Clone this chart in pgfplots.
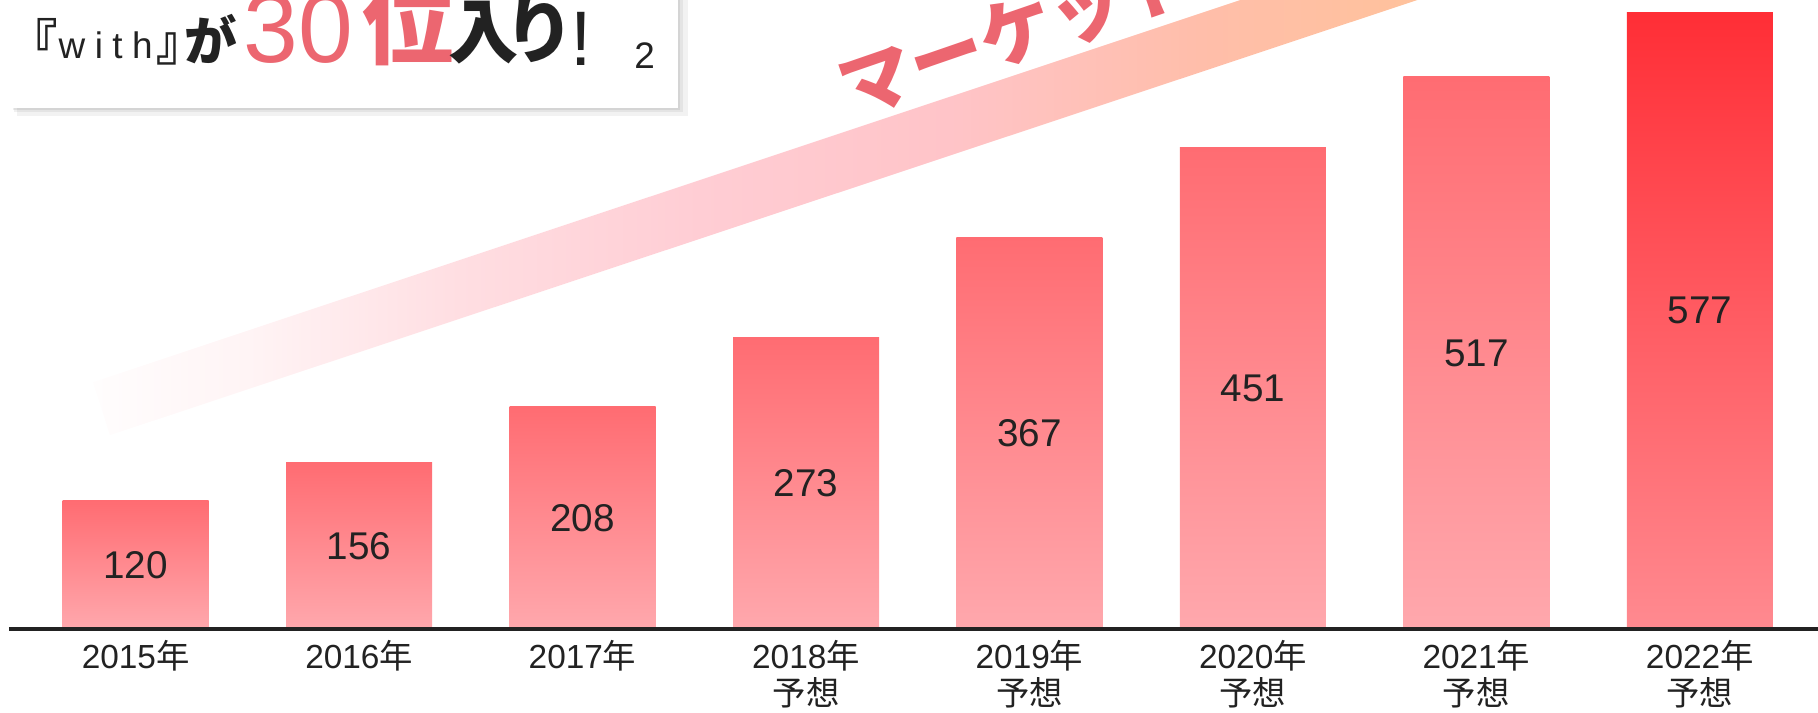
\documentclass[border=0pt]{standalone}
\usepackage{fontspec}
\setmainfont{Liberation Sans}
\newfontfamily\cjk{Noto Sans CJK JP}
\usepackage{pgfplots}
\pgfplotsset{compat=1.18}

\definecolor{barTop}{RGB}{255,108,114}
\definecolor{barBot}{RGB}{255,168,173}
\definecolor{lastTop}{RGB}{255,46,54}
\definecolor{lastBot}{RGB}{255,138,144}
\definecolor{accent}{RGB}{236,102,112}
\definecolor{ink}{RGB}{34,34,34}
\definecolor{bandA}{RGB}{255,253,253}
\definecolor{bandB}{RGB}{255,244,245}
\definecolor{bandC}{RGB}{255,222,226}
\definecolor{bandD}{RGB}{255,205,212}
\definecolor{bandE}{RGB}{255,196,200}
\definecolor{bandF}{RGB}{255,190,170}
\definecolor{bandG}{RGB}{255,195,152}
% path bbox maps onto 25bp..75bp
\pgfdeclarehorizontalshading{band}{100bp}{color(0bp)=(bandA); color(25bp)=(bandA);
  color(30.6bp)=(bandB); color(38.2bp)=(bandC); color(46.9bp)=(bandD);
  color(55.9bp)=(bandE); color(64.9bp)=(bandF); color(75bp)=(bandG); color(100bp)=(bandG)}

% market size by year (2015-2021, and 2022 forecast drawn stronger)
\pgfplotstableread{
x y
0 120
1 156
2 208
3 273
4 367
5 451
6 517
}\sizes
\pgfplotstableread{
x y
7 577
}\lastsize

\begin{document}
\begin{tikzpicture}
\useasboundingbox (0,0) rectangle (18.18cm,7.12cm);
\begin{scope}
\clip (0,0) rectangle (18.18cm,7.12cm);
\begin{axis}[
    at={(0,0)}, anchor=south west,
    scale only axis,
    width=18.18cm, height=7.12cm,
    xmin=-0.607, xmax=7.529,
    ymin=-77.7, ymax=589,
    axis x line=middle, axis y line=none,
    x axis line style={draw=none},
    xtick={0,...,7},
    xtick style={draw=none},
    ytick=\empty,
    xticklabels={
        {2015{\cjk 年}},
        {2016{\cjk 年}},
        {2017{\cjk 年}},
        {2018{\cjk 年}\\{\cjk 予想}},
        {2019{\cjk 年}\\{\cjk 予想}},
        {2020{\cjk 年}\\{\cjk 予想}},
        {2021{\cjk 年}\\{\cjk 予想}},
        {2022{\cjk 年}\\{\cjk 予想}}},
    xticklabel style={align=center, anchor=north, yshift=2.5pt,
        font=\fontsize{9.5}{10.6}\selectfont, text=ink},
    /pgf/number format/assume math mode=true,
    clip=false,
]
% one plot per bar so that every bar gets its own top-to-bottom gradient
\pgfplotsinvokeforeach{0,...,6}{
  \addplot[ybar, bar width=1.46cm, bar shift=0pt, draw=none, mark=none,
           top color=barTop, bottom color=barBot,
           restrict x to domain=#1:#1] table[x=x,y=y]{\sizes};
}
\addplot[ybar, bar width=1.46cm, bar shift=0pt, draw=none, mark=none,
         top color=lastTop, bottom color=lastBot] table[x=x,y=y]{\lastsize};
% value labels in the middle of each bar
\addplot[draw=none, mark=none, nodes near coords, point meta=rawy,
         y filter/.expression={y/2},
         every node near coord/.append style={anchor=center, text=ink,
             font=\fontsize{11}{11}\selectfont}] table[x=x,y=y]{\sizes};
\addplot[draw=none, mark=none, nodes near coords, point meta=rawy,
         y filter/.expression={y/2},
         every node near coord/.append style={anchor=center, text=ink,
             font=\fontsize{11}{11}\selectfont, yshift=3pt}] table[x=x,y=y]{\lastsize};
\draw[ink, line width=1pt] (axis cs:-0.567,0) -- (axis cs:7.6,0);
\end{axis}

% decorations, in pixel units of the 1818x712 slide (y up)
\begin{scope}[x=0.01cm, y=0.01cm]
  % rising band
  \shade[shading=band] (93,330) -- (1300,732) -- (1480,733) -- (110,277) -- cycle;
  \node[anchor=west, inner sep=0, rotate=19, text=accent]
    at (842,620) {\fontsize{21}{21}\selectfont\cjk\bfseries マーケット};
  % title box
  \fill[black, opacity=0.05] (17,596) rectangle (688,760);
  \fill[black, opacity=0.06] (14,600) rectangle (683,760);
  \fill[black, opacity=0.07] (13,602) rectangle (680,760);
  \fill[white] (12,604) rectangle (678,760);
  \node[anchor=base west, inner sep=0, text=ink] at (8,652)
    {\fontsize{14}{14}\selectfont\cjk\bfseries 『};
  \node[anchor=base west, inner sep=0, text=ink] at (58,654)
    {\fontsize{10.5}{10.5}\selectfont w\hspace{2.7pt}i\hspace{2.7pt}t\hspace{2.7pt}h};
  \node[anchor=base west, inner sep=0, text=ink] at (156,652)
    {\fontsize{14}{14}\selectfont\cjk\bfseries 』};
  \node[anchor=base west, inner sep=0, text=ink] at (184,652)
    {\fontsize{15}{15}\selectfont\cjk\bfseries が};
  \node[anchor=base west, inner sep=0, text=accent] at (243,650)
    {\fontsize{28}{28}\selectfont 30};
  \node[anchor=base west, inner sep=0, text=accent] at (362,655)
    {\fontsize{26}{26}\selectfont\cjk\bfseries 位};
  \node[anchor=base west, inner sep=0, text=ink] at (448,655)
    {\fontsize{20}{20}\selectfont\cjk\bfseries 入};
  \node[anchor=base west, inner sep=0, text=ink] at (504,655)
    {\fontsize{20}{20}\selectfont\cjk\bfseries り};
  \node[anchor=base west, inner sep=0, text=ink] at (570,647)
    {\fontsize{22}{22}\selectfont !};
  \node[anchor=base west, inner sep=0, text=ink] at (634,644)
    {\fontsize{10.5}{10.5}\selectfont 2};
\end{scope}
\end{scope}
\end{tikzpicture}
\end{document}
